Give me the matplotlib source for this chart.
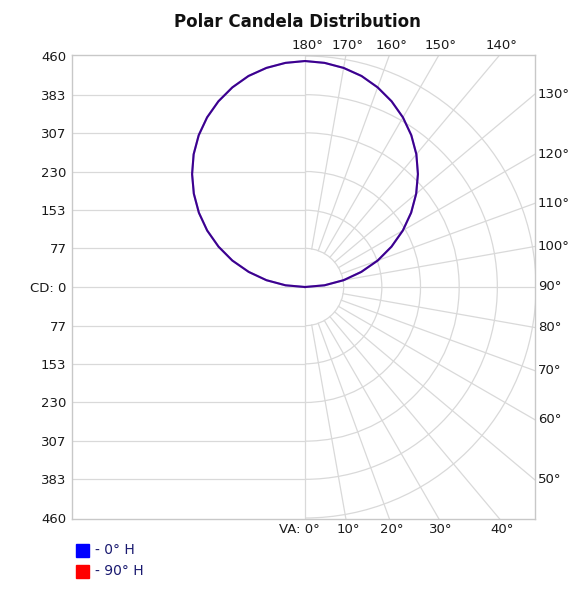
import numpy as np
import matplotlib.pyplot as plt
from matplotlib.patches import Arc, Rectangle

# candela values (vertical angle -> cd), same for 0° H and 90° H
va = [90, 95, 100, 105, 110, 115, 120, 125, 130, 135, 140, 145, 150, 155, 160, 165, 170, 175, 180]
cd_0h = [0, 39, 78, 116, 154, 190, 225, 258, 289, 318, 345, 369, 390, 408, 423, 435, 443, 448, 450]
cd_90h = [0, 39, 78, 116, 154, 190, 225, 258, 289, 318, 345, 369, 390, 408, 423, 435, 443, 448, 450]

cd_ticks = [460, 383, 307, 230, 153, 77, 0, 77, 153, 230, 307, 383, 460]
rings = [77, 153, 230, 307, 383, 460]
spokes = list(range(0, 181, 10))

grid_c = '#d9d9d9'
txt_c = '#1a1a1a'

fig = plt.figure(figsize=(5.87, 5.89), dpi=100)
ax = fig.add_axes([72 / 587, 70 / 589, 463 / 587, 464 / 589])
xmin, xmax = -464, 458
ymin, ymax = -462, 462
ax.set_xlim(xmin, xmax)
ax.set_ylim(ymin, ymax)

for s in ax.spines.values():
    s.set_color('#c8c8c8')
    s.set_linewidth(1)
ax.set_xticks([])
yt = np.array([460, 383, 307, 230, 153, 77, 0, -77, -153, -230, -307, -383, -460])
ax.set_yticks(yt)
ax.set_yticklabels([('CD: 0' if v == 0 else str(v)) for v in cd_ticks], fontsize=9.5, color=txt_c)
ax.tick_params(axis='y', length=0, pad=4)

# left half: horizontal guide lines
for v in yt:
    if v == 0:
        ax.plot([xmin, xmax], [0, 0], color=grid_c, lw=0.9, zorder=1)
    elif abs(v) < 460:
        ax.plot([xmin, 0], [v, v], color=grid_c, lw=0.9, zorder=1)
ax.plot([0, 0], [ymin, ymax], color=grid_c, lw=0.9, zorder=1)

# right half: polar rings and spokes
for r in rings:
    ax.add_patch(Arc((0, 0), 2 * r, 2 * r, theta1=-90, theta2=90, color=grid_c, lw=0.9, zorder=1))
for a in spokes:
    if a in (0, 90, 180):
        continue
    t = np.radians(a)
    ax.plot([77 * np.sin(t), 900 * np.sin(t)], [-77 * np.cos(t), -900 * np.cos(t)],
            color=grid_c, lw=0.9, zorder=1)

# angle labels where spokes meet the frame
for a in spokes:
    t = np.radians(a)
    dx, dy = np.sin(t), -np.cos(t)
    if a >= 140:
        x = ymax * dx / dy
        ax.text(x + 4, ymax + 6, f'{a}°', ha='center', va='bottom', fontsize=9.5, color=txt_c)
    elif a >= 50:
        y = xmax * dy / dx
        ax.text(xmax + 6, y, f'{a}°', ha='left', va='center', fontsize=9.5, color=txt_c)
    elif a == 0:
        ax.text(30, ymin - 8, 'VA: 0°', ha='right', va='top', fontsize=9.5, color=txt_c)
    else:
        x = ymin * dx / dy
        ax.text(x + 4, ymin - 8, f'{a}°', ha='center', va='top', fontsize=9.5, color=txt_c)

# candela curves, mirrored on the left half
def curve(vals):
    t = np.radians(np.array(va))
    r = np.array(vals)
    xs = np.concatenate([r * np.sin(t), (-r * np.sin(t))[::-1]])
    ys = np.concatenate([-r * np.cos(t), (-r * np.cos(t))[::-1]])
    return xs, ys

x0, y0 = curve(cd_0h)
ax.plot(x0, y0, color='#0000cc', lw=1.5, zorder=3)
x9, y9 = curve(cd_90h)
ax.plot(x9, y9, color='#cc0000', lw=1.5, alpha=0.3, zorder=4)

fig.text(297 / 587, 1 - 22 / 589, 'Polar Candela Distribution', ha='center', va='center',
         fontsize=12, fontweight='bold', color='#111111')

# legend
fig.patches.append(Rectangle((76 / 587, 1 - 557 / 589), 13 / 587, 13 / 589,
                             transform=fig.transFigure, color='#0000ff'))
fig.patches.append(Rectangle((76 / 587, 1 - 578 / 589), 13 / 587, 13 / 589,
                             transform=fig.transFigure, color='#ff0000'))
fig.text(95 / 587, 1 - 550 / 589, '- 0° H', ha='left', va='center', fontsize=10, color='#1a1a70')
fig.text(95 / 587, 1 - 571 / 589, '- 90° H', ha='left', va='center', fontsize=10, color='#1a1a70')

fig.savefig('out.png', dpi=100, facecolor='white')
